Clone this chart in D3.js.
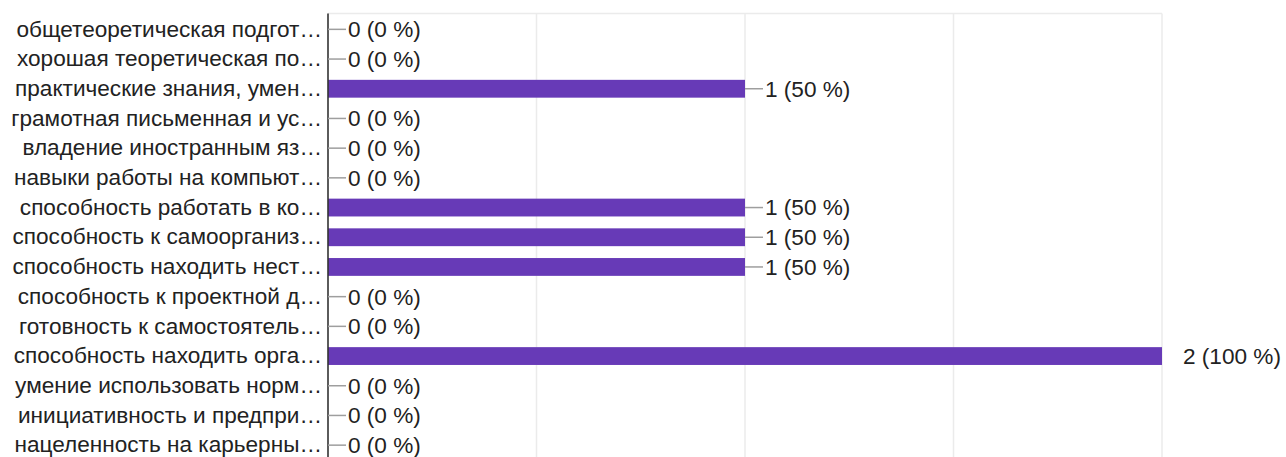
<!DOCTYPE html>
<html><head><meta charset="utf-8">
<script src="https://cdn.jsdelivr.net/npm/d3@7"></script>
<style>body{margin:0;background:#fff}svg{display:block}text{font-family:"Liberation Sans",Arial,sans-serif}</style>
</head><body><svg id="c" width="1286" height="457"></svg>
<script>
const categories = [
"общетеоретическая подгот…","хорошая теоретическая по…","практические знания, умен…","грамотная письменная и ус…","владение иностранным яз…","навыки работы на компьют…","способность работать в ко…","способность к самоорганиз…","способность находить нест…","способность к проектной д…","готовность к самостоятель…","способность находить орга…","умение использовать норм…","инициативность и предпри…","нацеленность на карьерны…"];
const counts = [0,0,1,0,0,0,1,1,1,0,0,2,0,0,0];
const percents = [0,0,50,0,0,0,50,50,50,0,0,100,0,0,0];
const xTicks = [0,0.5,1,1.5,2];

(function(){
const FS = 22.6;
const svg = d3.select("#c");
const mLeft = 328, mRight = 1162, mTop = 14.5, step = 29.7;
const x = d3.scaleLinear().domain([0,2]).range([mLeft,mRight]);
const y = d3.scaleBand().domain(categories).range([mTop, mTop+step*categories.length]).paddingInner(0.4).paddingOuter(0.2);

svg.append("g").selectAll("line").data(xTicks.slice(1)).join("line")
  .attr("x1",d=>x(d)).attr("x2",d=>x(d)).attr("y1",mTop-1).attr("y2",457)
  .attr("stroke","#ebebeb").attr("stroke-width",1.5);
svg.append("line").attr("x1",mLeft).attr("x2",mRight).attr("y1",mTop-1).attr("y2",mTop-1)
  .attr("stroke","#ebebeb").attr("stroke-width",1.5);

svg.append("g").selectAll("rect").data(categories).join("rect")
  .attr("x",x(0)).attr("y",d=>y(d)).attr("height",y.bandwidth())
  .attr("width",(d,i)=>x(counts[i])-x(0)).attr("fill","#673ab7");

const ax = svg.append("g").attr("transform",`translate(${mLeft},0)`).call(d3.axisLeft(y).tickSize(0).tickPadding(6));
ax.select(".domain").attr("stroke","#333").attr("stroke-width",1.6).attr("d",`M0,${mTop-1}V457`);
ax.selectAll("text").attr("font-size",FS).attr("fill","#222").attr("font-family","'Liberation Sans',Arial,sans-serif");

const vl = svg.append("g");
const maxC = d3.max(counts);
categories.forEach((c,i)=>{
  const xe = x(counts[i]), yc = y(c)+y.bandwidth()/2;
  const isMax = counts[i]===maxC;
  if(!isMax){
    vl.append("line").attr("x1",xe).attr("x2",xe+18).attr("y1",yc).attr("y2",yc).attr("stroke","#9e9e9e").attr("stroke-width",1.5);
  }
  vl.append("text").attr("x",isMax?xe+21:xe+20).attr("y",yc).attr("dy","0.35em")
    .attr("font-size",FS).attr("fill","#222").text(`${counts[i]} (${percents[i]} %)`);
});
})();
</script></body></html>
